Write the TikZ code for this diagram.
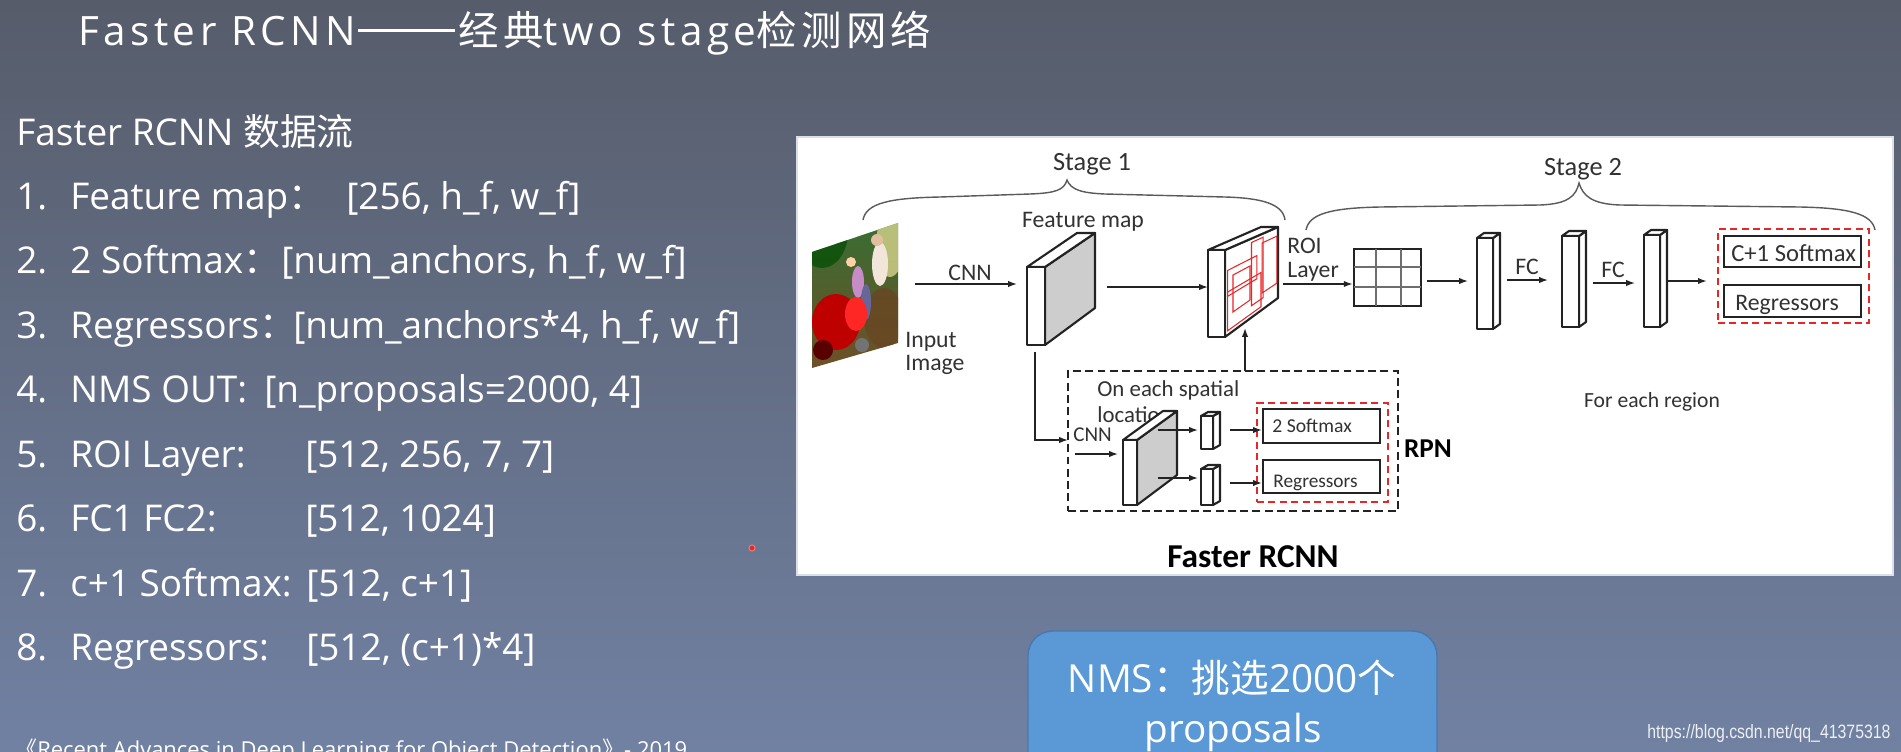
\documentclass[tikz,border=0pt]{standalone}
\usepackage{fontspec}
\setmainfont{Open Sans}
\newfontfamily\cjk{Noto Sans CJK SC}
\newfontfamily\ttl{Open Sans}[LetterSpace=11]
\newfontfamily\cjkttl{Noto Sans CJK SC}[LetterSpace=11]
\newfontfamily\diag{Carlito}
\newfontfamily\wmfont{Liberation Sans}[FakeStretch=0.82]
\usetikzlibrary{arrows.meta,fit}

\definecolor{bgtop}{RGB}{86,92,106}
\definecolor{bgbot}{RGB}{113,129,162}
\definecolor{ink}{RGB}{35,35,35}
\definecolor{txt}{RGB}{50,50,50}
\definecolor{slabgray}{RGB}{205,205,205}
\definecolor{nmsblue}{RGB}{90,152,214}
\definecolor{nmsedge}{RGB}{72,120,178}
\definecolor{rbox}{RGB}{232,38,38}
\definecolor{gridln}{RGB}{110,110,110}

\tikzset{
  slidetxt/.style={text=white, inner sep=0pt, anchor=base west, font=\fontsize{21}{25}\selectfont},
  dlab/.style={text=txt, inner sep=0pt, font=\diag\fontsize{13.5}{16}\selectfont},
  arr/.style={draw=ink, line width=0.8pt, -{Latex[length=5pt,width=3.6pt]}},
  plainln/.style={draw=ink, line width=0.8pt},
  boxst/.style={draw=ink, line width=1.3pt, inner sep=0pt},
  rdash/.style={draw=rbox, line width=1.4pt, dash pattern=on 4pt off 2.5pt, inner sep=0pt},
  kdash/.style={draw=ink, line width=1.4pt, dash pattern=on 4.5pt off 2.5pt, inner sep=0pt},
  bracest/.style={draw=ink!75, line width=0.8pt},
  slabline/.style={draw=ink, line width=1.2pt, line join=round},
  redln/.style={draw=rbox, line width=0.6pt},
}

% x, y (top-left of front face), width, height, dx, dy, side fill, back height
\newcommand{\drawslab}[8]{%
  \filldraw[slabline, fill=#7] ({#1+#3},#2) -- ++(#5,#6) -- ++(0,#8) -- ({#1+#3},{#2+#4}) -- cycle;
  \filldraw[slabline, fill=white] (#1,#2) -- ++(#5,#6) -- ++(#3,0) -- ({#1+#3},#2) -- cycle;
  \filldraw[slabline, fill=white] (#1,#2) rectangle ++(#3,#4);
}

\begin{document}
\begin{tikzpicture}[x=0.02cm, y=-0.02cm]
\clip (0,0) rectangle (1901,751);
% background
\shade[top color=bgtop, bottom color=bgbot] (0,0) rectangle (1901,751);

% ---------------- slide texts ----------------
\node[text=white, inner sep=0pt, anchor=base west, font=\fontsize{23}{27}\selectfont] (title) at (78,45)
  {\ttl Faster RCNN\hspace{1pt}\rule[0.33em]{1.94cm}{0.07em}\hspace{2pt}\cjkttl 经典\ttl two stage\cjkttl 检测网络};
\node[slidetxt] (head) at (16,145) {Faster RCNN {\cjk 数据流}};

\node[slidetxt] (n1) at (16,209) {1.};
\node[slidetxt] (k1) at (70,209) {Feature map{\cjk ：}};
\node[slidetxt] (v1) at (346,209) {[256, h\_f, w\_f]};
\node[slidetxt] (n2) at (16,273.5) {2.};
\node[slidetxt] (k2) at (70,273.5) {2 Softmax{\cjk ：}};
\node[slidetxt] (v2) at (281,273.5) {[num\_anchors, h\_f, w\_f]};
\node[slidetxt] (n3) at (16,338) {3.};
\node[slidetxt] (k3) at (70,338) {Regressors{\cjk ：}};
\node[slidetxt] (v3) at (293,338) {[num\_anchors*4, h\_f, w\_f]};
\node[slidetxt] (n4) at (16,402.5) {4.};
\node[slidetxt] (k4) at (70,402.5) {NMS OUT:};
\node[slidetxt] (v4) at (264,402.5) {[n\_proposals=2000, 4]};
\node[slidetxt] (n5) at (16,467) {5.};
\node[slidetxt] (k5) at (70,467) {ROI Layer:};
\node[slidetxt] (v5) at (305,467) {[512, 256, 7, 7]};
\node[slidetxt] (n6) at (16,531.5) {6.};
\node[slidetxt] (k6) at (70,531.5) {FC1 FC2:};
\node[slidetxt] (v6) at (305,531.5) {[512, 1024]};
\node[slidetxt] (n7) at (16,596) {7.};
\node[slidetxt] (k7) at (70,596) {c+1 Softmax:};
\node[slidetxt] (v7) at (306,596) {[512, c+1]};
\node[slidetxt] (n8) at (16,660.5) {8.};
\node[slidetxt] (k8) at (70,660.5) {Regressors:};
\node[slidetxt] (v8) at (306,660.5) {[512, (c+1)*4]};

\node[slidetxt, font=\fontsize{12.5}{15}\selectfont] (cite) at (15,757)
  {{\cjk 《}Recent Advances in Deep Learning for Object Detection{\cjk 》}- 2019};

\node[circle, fill=rbox, draw=rbox!60!white, line width=0.5pt, inner sep=0pt, minimum size={6*0.02cm}] (dot) at (752,548) {};

% NMS box
\node[fit={(1028,631) (1437,800)}, rounded corners=14pt, fill=nmsblue, draw=nmsedge, line width=0.8pt, inner sep=0pt] (nms) {};
\node[text=white, inner sep=0pt, anchor=base, font=\fontsize{22}{26}\selectfont] (nms1) at (1232,692) {NMS{\cjk ：挑选}2000{\cjk 个}};
\node[text=white, inner sep=0pt, anchor=base, font=\fontsize{22}{26}\selectfont] (nms2) at (1233,742) {proposals};

\node[text=white!88!bgbot, inner sep=0pt, anchor=base west, font=\wmfont\fontsize{11}{13}\selectfont] (wm) at (1647,738) {https://blog.csdn.net/qq\_41375318};

% ---------------- diagram panel ----------------
\node[fit={(797,137) (1893,575)}, inner sep=0pt, fill=white, draw=white!75!bgbot, line width=0.6pt] (panel) {};

% braces
\draw[bracest] (863,220) .. controls (866,203) and (890,198) .. (940,197) -- (1030,194) .. controls (1056,193) and (1064,190) .. (1067,180) .. controls (1071,190) and (1082,193) .. (1105,194) -- (1225,197) .. controls (1262,198) and (1283,204) .. (1285,220);
\draw[bracest] (1306,230) .. controls (1309,214) and (1330,208) .. (1380,207) -- (1540,205) .. controls (1568,204) and (1576,196) .. (1579,183) .. controls (1583,196) and (1592,204) .. (1620,205) -- (1800,207) .. controls (1850,208) and (1872,214) .. (1875,230);
\node[dlab, anchor=base, font=\diag\fontsize{15}{18}\selectfont] (stage1) at (1092,170) {Stage 1};
\node[dlab, anchor=base, font=\diag\fontsize{15}{18}\selectfont] (stage2) at (1583,175) {Stage 2};

% input image (photo-like)
\begin{scope}
\clip (812,252) -- (898,223) -- (898,343) -- (812,368) -- cycle;
\shade[top color=green!30!black!80!white, bottom color=brown!60!black] (800,210) rectangle (910,380);
\fill[green!30!black, opacity=0.7] (822,232) ellipse (26 and 36);
\fill[olive!35!white, opacity=0.8] (890,245) ellipse (14 and 32);
\fill[brown!55!black, opacity=0.8] (884,318) ellipse (20 and 30);
\fill[white!80!brown] (880,264) ellipse (8 and 22);
\fill[brown!50!white] (877,240) circle (6);
\fill[violet!45!white] (858,282) ellipse (6 and 16);
\fill[orange!35!white] (851,262) circle (5);
\fill[blue!20!gray] (866,302) ellipse (5 and 18);
\fill[red!75!black] (836,322) ellipse (24 and 28);
\fill[red!85!white] (856,314) ellipse (11 and 17);
\fill[red!35!black] (823,350) circle (10);
\fill[black!55] (862,345) circle (7);
\end{scope}
\coordinate (imgR) at (915,284);

\node[dlab, anchor=base west] (inp1) at (905,347) {Input};
\node[dlab, anchor=base west] (inp2) at (905,370) {Image};

% feature map slab
\node[dlab, anchor=base] (fmlab) at (1083,227) {Feature map};
\drawslab{1027}{267}{18}{78}{50}{-34}{slabgray}{75}
\coordinate (fmIn) at (1017,284);
\coordinate (fmOut) at (1107,287);
\coordinate (fmDown) at (1035,352);

\node[dlab, anchor=base] (cnn1) at (970,280) {CNN};
\draw[arr] (imgR) -- (fmIn);

% proposals slab
\drawslab{1208}{250}{17}{87}{53}{-23}{white}{71}
\draw[redln] (1227.7,270.4) -- (1256.8,255.6) -- (1256.8,278.8) -- (1227.7,296.3) -- cycle;
\draw[redln] (1251.5,242.5) -- (1263.2,237.2) -- (1263.2,297.6) -- (1251.5,305.7) -- cycle;
\draw[redln] (1262.1,243.0) -- (1276.9,236.1) -- (1276.9,283.1) -- (1262.1,293.0) -- cycle;
\draw[redln] (1227.7,292.0) -- (1261.0,272.5) -- (1261.0,306.7) -- (1227.7,330.7) -- cycle;
\draw[redln] (1233,275) -- (1250,266) -- (1250,300) -- (1233,312) -- cycle;
\coordinate (pIn) at (1208,287);
\coordinate (pBot) at (1245,328);
\coordinate (pOut) at (1283,284);
\draw[arr] (fmOut) -- (pIn);

% ---------------- RPN ----------------
\node[fit={(1068,371) (1398,511)}, kdash] (rpn) {};
\node[dlab, anchor=base west, font=\diag\fontsize{13}{15}\selectfont] (spat1) at (1097,396) {On each spatial};
\node[dlab, anchor=base west, font=\diag\fontsize{13}{15}\selectfont] (spat2) at (1097,422) {location};
\coordinate (rpnIn) at (1068,440);
\draw[arr] (fmDown) |- (rpnIn);
\coordinate (rpnUp) at (1245,371);
\draw[arr] (rpnUp) -- (pBot);

\node[dlab, anchor=base west, font=\diag\fontsize{12}{14}\selectfont] (cnn2) at (1073,441) {CNN};
\coordinate (c2s) at (1075,454);
\coordinate (c2e) at (1118,454);
\draw[arr] (c2s) -- (c2e);

\drawslab{1123}{440}{14}{65}{40}{-29}{slabgray}{64}
\drawslab{1201}{416}{12}{33}{7}{-4}{white}{33}
\drawslab{1201}{469}{12}{36}{7}{-4}{white}{36}

\coordinate (rs1) at (1158,430);
\coordinate (re1) at (1198,430);
\coordinate (rs2) at (1158,478);
\coordinate (re2) at (1198,478);
\draw[arr] (rs1) -- (re1);
\draw[arr] (rs2) -- (re2);

\node[fit={(1257,403) (1388,502)}, rdash] (rpnout) {};
\node[fit={(1263,409) (1380,443)}, boxst] (sm2) {};
\node[fit={(1263,460) (1380,493)}, boxst] (reg1) {};
\node[dlab, anchor=base west, font=\diag\fontsize{11.2}{13}\selectfont] (sm2t) at (1272,432) {2 Softmax};
\node[dlab, anchor=base west, font=\diag\fontsize{11}{13}\selectfont] (reg1t) at (1273,487) {Regressors};
\coordinate (cs1) at (1230,430);
\coordinate (cs2) at (1230,483);
\draw[arr] (cs1) -- (cs1 -| sm2.west);
\draw[arr] (cs2) -- (cs2 -| reg1.west);

\node[inner sep=0pt, anchor=base, text=black, font=\diag\bfseries\fontsize{15.5}{18}\selectfont] (rpnlab) at (1428,457) {RPN};
\node[inner sep=0pt, anchor=base, text=black, font=\diag\bfseries\fontsize{19}{22}\selectfont] (frc) at (1253,567) {Faster RCNN};

% ---------------- Stage 2 ----------------
\node[dlab, anchor=base west] (roi1) at (1287,253) {ROI};
\node[dlab, anchor=base west] (roi2) at (1287,277) {Layer};

\node[fit={(1354,249) (1421,306)}, draw=ink, line width=1.6pt, inner sep=0pt] (grid) {};
\draw[gridln, line width=0.6pt] (1376,249) -- (1376,306) (1401,249) -- (1401,306) (1354,267) -- (1421,267) (1354,287) -- (1421,287);
\draw[arr] (pOut) -- (pOut -| grid.west);

\drawslab{1477}{238}{16}{91}{7}{-5}{white}{91}
\drawslab{1562}{236}{17}{91}{7}{-5}{white}{91}
\drawslab{1644}{235}{16}{92}{7}{-5}{white}{92}

\coordinate (g1s) at (1427,281);
\coordinate (g1e) at (1468,281);
\coordinate (f1s) at (1507,280);
\coordinate (f1e) at (1548,280);
\coordinate (f2s) at (1593,283);
\coordinate (f2e) at (1635,283);
\coordinate (f3s) at (1666,281);
\draw[arr] (g1s) -- (g1e);
\draw[arr] (f1s) -- (f1e);
\draw[arr] (f2s) -- (f2e);
\node[dlab, anchor=base] (fc1) at (1527,274) {FC};
\node[dlab, anchor=base] (fc2) at (1613,277) {FC};

\node[fit={(1718,229) (1869,323)}, rdash] (s2out) {};
\node[fit={(1724,236) (1861,267)}, boxst] (sm3) {};
\node[fit={(1724,285) (1861,317)}, boxst] (reg2) {};
\node[dlab, anchor=base west, font=\diag\fontsize{14}{16}\selectfont] (sm3t) at (1731,261) {C+1 Softmax};
\node[dlab, anchor=base west] (reg2t) at (1735,310) {Regressors};
\draw[arr] (f3s) -- ([xshift=-10*0.02cm]f3s -| s2out.west);

\node[dlab, anchor=base, font=\diag\fontsize{12.3}{14}\selectfont] (each) at (1652,407) {For each region};
\end{tikzpicture}
\end{document}
